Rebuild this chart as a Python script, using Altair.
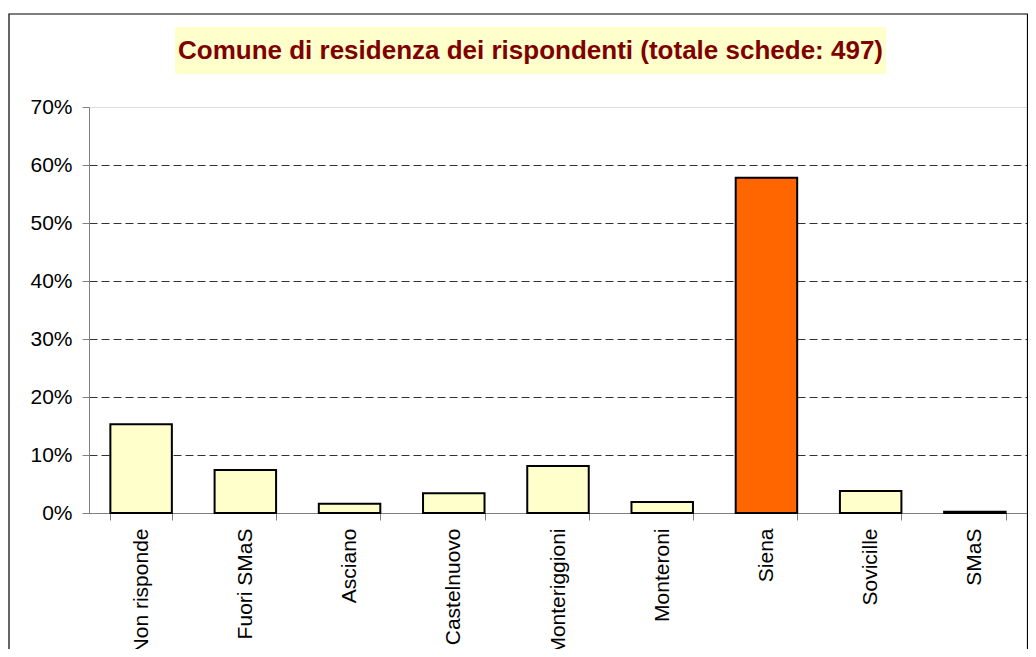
import altair as alt
import pandas as pd

categories = ["Non risponde", "Fuori SMaS", "Asciano", "Castelnuovo", "Monteriggioni",
              "Monteroni", "Siena", "Sovicille", "SMaS"]
percent = [15.3, 7.4, 1.6, 3.4, 8.1, 1.9, 57.8, 3.8, 0.2]
highlight = [False, False, False, False, False, False, True, False, False]
title_text = "Comune di residenza dei rispondenti (totale schede: 497)"

df = pd.DataFrame({"cat": categories, "pct": percent, "hl": highlight})
one = pd.DataFrame({"k": [0]})

FONT = "Liberation Sans"

bars = alt.Chart(df).mark_bar(stroke="black", strokeWidth=2).encode(
    x=alt.X("cat:N", sort=categories, title=None,
            scale=alt.Scale(paddingInner=0.41, paddingOuter=0.205),
            axis=alt.Axis(labelAngle=-90, tickBand="extent", labelFontSize=21,
                          labelFont=FONT, labelColor="black", domainColor="#808080",
                          tickColor="#808080", tickSize=7, labelPadding=8, grid=False,
                          labelLimit=400)),
    y=alt.Y("pct:Q", title=None,
            scale=alt.Scale(domain=[0, 70], nice=False),
            axis=alt.Axis(values=[0, 10, 20, 30, 40, 50, 60, 70],
                          labelExpr="datum.value + '%'", labelFontSize=21,
                          labelFont=FONT, labelColor="black", domainColor="#808080",
                          tickColor="#808080", tickSize=7, labelPadding=10,
                          grid=True, gridColor="#333333", gridDash=[8, 4],
                          gridWidth=1,
                          gridOpacity={"condition": {"test": "datum.value >= 70", "value": 0},
                                       "value": 1})),
    color=alt.Color("hl:N", scale=alt.Scale(domain=[False, True],
                                             range=["#FFFFCC", "#FF6600"]),
                    legend=None),
)

frame = alt.Chart(one).mark_rect(fill=None, stroke="black", strokeWidth=1.2).encode(
    x=alt.value(-80), x2=alt.value(938.5), y=alt.value(-93), y2=alt.value(800)
)

title_box = alt.Chart(one).mark_rect(fill="#FFFFCC").encode(
    x=alt.value(86), x2=alt.value(797), y=alt.value(-80), y2=alt.value(-33)
)

title = alt.Chart(one).mark_text(
    text=title_text, font=FONT, fontSize=26, fontWeight="bold",
    color="#800000", align="center", baseline="middle"
).encode(x=alt.value(441.5), y=alt.value(-56))

chart = alt.layer(frame, title_box, title, bars).properties(
    width=938, height=406,
    autosize=alt.AutoSizeParams(type="none"),
    padding={"left": 81, "top": 99, "right": 1, "bottom": 136},
).configure_view(stroke="#808080", strokeWidth=1.5).configure(background="white")

chart.save("out.html", embed_options={"renderer": "svg", "actions": False})
